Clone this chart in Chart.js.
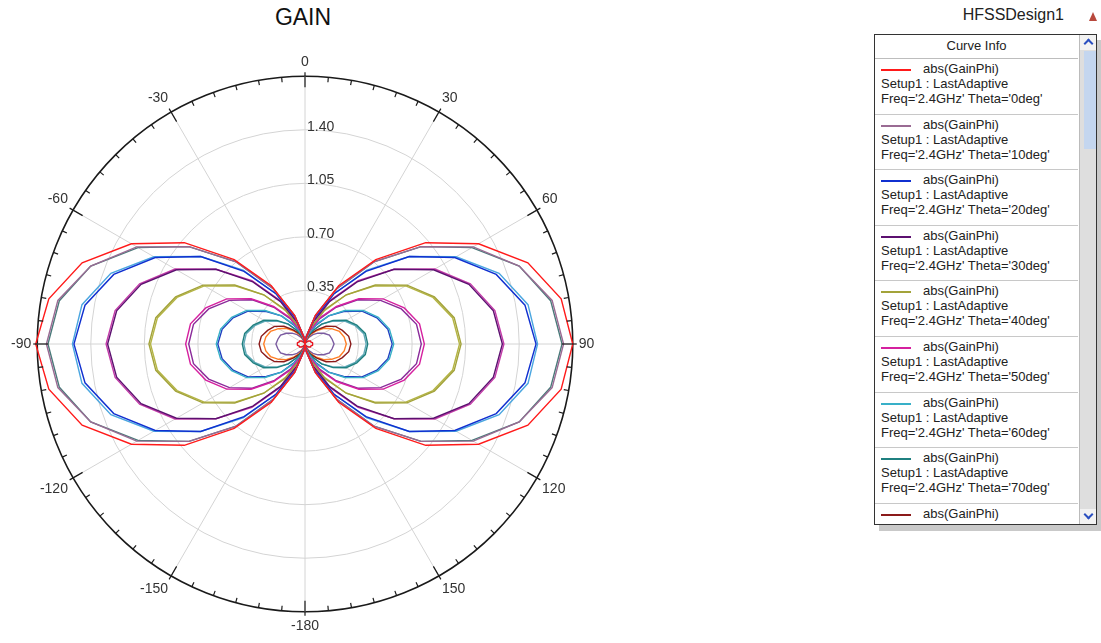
<!DOCTYPE html>
<html lang="en">
<head>
    <meta charset="UTF-8">
    <title>GAIN - abs(GainPhi)</title>
    <style>
        body { margin: 0; background: #fff; font-family: Arial, "Liberation Sans", sans-serif; overflow: hidden; }
        #title { position: absolute; left: 203px; width: 200px; top: 4px; text-align: center; font-size: 23px; color: #111; }
        #chartBox { position: absolute; left: 3px; top: 44px; width: 600px; height: 600px; }
        #design { position: absolute; left: 900px; width: 164px; top: 6px; text-align: right; font-size: 16px; color: #222; }
        #designIcon { position: absolute; left: 1089px; top: 12px; width: 0; height: 0;
            border-left: 4px solid transparent; border-right: 4px solid transparent; border-bottom: 9px solid #b8483c; }
        #curveInfo { position: absolute; left: 874px; top: 34px; width: 221px; height: 489px;
            border: 1px solid #333; background: #fff; box-shadow: 5px 6px 0 #c9c9c9; overflow: hidden; }
        #curveList { position: absolute; left: 0; top: 0; width: 203px; }
        #curveInfo .head { height: 23px; line-height: 22px; text-align: center; font-size: 13px; color: #222; border-bottom: 1px solid #bdbdbd; }
        #curveInfo .item { position: relative; height: 54.6px; border-bottom: 1px solid #c8c8c8; font-size: 13px; color: #222; }
        #curveInfo .item .swatch { position: absolute; left: 6px; top: 10px; width: 30px; height: 2px; }
        #curveInfo .item .l1 { position: absolute; left: 48px; top: 2px; }
        #curveInfo .item .l2 { position: absolute; left: 6px; top: 17px; }
        #curveInfo .item .l3 { position: absolute; left: 6px; top: 32px; white-space: nowrap; }
        #scroll { position: absolute; left: 204px; top: 0; width: 17px; height: 489px; background: #dedede; border-left: 1px solid #bbb; }
        #scroll .up, #scroll .down { position: absolute; left: 0; width: 17px; height: 15px; background: #f2f2f2; }
        #scroll .up { top: 0; }
        #scroll .down { bottom: 0; }
        #scroll .up::after, #scroll .down::after { content: ""; position: absolute; left: 5px; width: 5px; height: 5px;
            border-left: 2px solid #2a4fc0; border-top: 2px solid #2a4fc0; }
        #scroll .up::after { top: 5px; transform: rotate(45deg); }
        #scroll .down::after { top: 2px; transform: rotate(225deg); }
        #scroll .thumb { position: absolute; left: 4px; top: 16px; width: 13px; height: 98px; background: #c4d6ef; }
    </style>
</head>
<body>
<div id="title">GAIN</div>
<div id="chartBox"><canvas id="gainChart" width="600" height="600"></canvas></div>

<div id="design">HFSSDesign1</div>
<div id="designIcon"></div>
<div id="curveInfo">
    <div id="curveList"><div class="head">Curve Info</div></div>
    <div id="scroll"><div class="up"></div><div class="thumb"></div><div class="down"></div></div>
</div>

<script src="https://cdn.jsdelivr.net/npm/chart.js"></script>
<script>
// phi angle labels, clockwise from the top
const phiLabels = ['0','10','20','30','40','50','60','70','80','90','100','110','120','130','140','150','160','170',
                   '-180','-170','-160','-150','-140','-130','-120','-110','-100','-90','-80','-70','-60','-50','-40','-30','-20','-10'];

// theta value of every curve (deg) and its colour
const thetaValues = [0, 10, 20, 30, 40, 50, 60, 70, 80, 90, 100, 110, 120, 130, 140, 150, 160, 170, 180];
const curveColors = ['#ff1a1a', '#9a6b93', '#1030d0', '#5c1070', '#a3a33a', '#d5209f', '#38b0c8', '#1f8080', '#8b1a1a',
                     '#e8141e', '#ff7f27', '#5fa8b8', '#2040c0', '#8a2a9a', '#b5b545', '#c43aa8', '#4aa6e0', '#4a7a7a', '#7a5aa0'];

// abs(GainPhi), one value per phiLabels entry
const gainTheta0   = [0,0.05,0.20,0.44,0.72,1.03,1.31,1.55,1.70,1.75,1.70,1.55,1.31,1.03,0.72,0.44,0.20,0.05,0,0.05,0.20,0.44,0.72,1.03,1.31,1.55,1.70,1.76,1.70,1.55,1.31,1.03,0.72,0.44,0.20,0.05];
const gainTheta10  = [0,0.05,0.20,0.42,0.70,0.99,1.27,1.49,1.64,1.69,1.64,1.49,1.27,0.99,0.70,0.42,0.20,0.05,0,0.05,0.20,0.42,0.70,0.99,1.27,1.49,1.64,1.69,1.64,1.49,1.27,0.99,0.70,0.42,0.20,0.05];
const gainTheta20  = [0,0.05,0.18,0.38,0.62,0.89,1.13,1.33,1.46,1.51,1.46,1.33,1.13,0.89,0.62,0.38,0.18,0.05,0,0.05,0.18,0.38,0.62,0.89,1.13,1.33,1.46,1.51,1.46,1.33,1.13,0.89,0.62,0.38,0.18,0.05];
const gainTheta30  = [0,0.04,0.15,0.32,0.53,0.76,0.97,1.14,1.25,1.29,1.25,1.14,0.97,0.76,0.53,0.32,0.15,0.04,0,0.04,0.15,0.32,0.53,0.76,0.97,1.14,1.25,1.29,1.25,1.14,0.97,0.76,0.53,0.32,0.15,0.04];
const gainTheta40  = [0,0.03,0.12,0.26,0.42,0.60,0.77,0.90,0.99,1.02,0.99,0.90,0.77,0.60,0.42,0.26,0.12,0.03,0,0.03,0.12,0.26,0.42,0.60,0.77,0.90,0.99,1.02,0.99,0.90,0.77,0.60,0.42,0.26,0.12,0.03];
const gainTheta50  = [0,0.02,0.09,0.20,0.32,0.46,0.59,0.69,0.76,0.78,0.76,0.69,0.59,0.46,0.32,0.20,0.09,0.02,0,0.02,0.09,0.20,0.32,0.46,0.59,0.69,0.76,0.78,0.76,0.69,0.59,0.46,0.32,0.20,0.09,0.02];
const gainTheta60  = [0,0.02,0.07,0.15,0.24,0.34,0.44,0.51,0.56,0.58,0.56,0.51,0.44,0.34,0.24,0.15,0.07,0.02,0,0.02,0.07,0.15,0.24,0.34,0.44,0.51,0.56,0.58,0.56,0.51,0.44,0.34,0.24,0.15,0.07,0.02];
const gainTheta70  = [0,0.01,0.05,0.10,0.17,0.24,0.31,0.36,0.40,0.41,0.40,0.36,0.31,0.24,0.17,0.10,0.05,0.01,0,0.01,0.05,0.10,0.17,0.24,0.31,0.36,0.40,0.41,0.40,0.36,0.31,0.24,0.17,0.10,0.05,0.01];
const gainTheta80  = [0,0.01,0.04,0.08,0.12,0.18,0.23,0.26,0.29,0.30,0.29,0.26,0.23,0.18,0.12,0.08,0.04,0.01,0,0.01,0.04,0.08,0.12,0.18,0.23,0.26,0.29,0.30,0.29,0.26,0.23,0.18,0.12,0.08,0.04,0.01];
const gainTheta90  = [0,0.00,0.01,0.01,0.02,0.03,0.04,0.04,0.05,0.05,0.05,0.04,0.04,0.03,0.02,0.01,0.01,0.00,0,0.00,0.01,0.01,0.02,0.03,0.04,0.04,0.05,0.05,0.05,0.04,0.04,0.03,0.02,0.01,0.01,0.00];
const gainTheta100 = [0,0.01,0.03,0.07,0.11,0.16,0.20,0.24,0.26,0.27,0.26,0.24,0.20,0.16,0.11,0.07,0.03,0.01,0,0.01,0.03,0.07,0.11,0.16,0.20,0.24,0.26,0.27,0.26,0.24,0.20,0.16,0.11,0.07,0.03,0.01];
const gainTheta110 = [0,0.01,0.05,0.10,0.17,0.23,0.30,0.35,0.39,0.40,0.39,0.35,0.30,0.23,0.17,0.10,0.05,0.01,0,0.01,0.05,0.10,0.17,0.23,0.30,0.35,0.39,0.40,0.39,0.35,0.30,0.23,0.17,0.10,0.05,0.01];
const gainTheta120 = [0,0.02,0.07,0.14,0.24,0.33,0.43,0.50,0.55,0.57,0.55,0.50,0.43,0.33,0.24,0.14,0.07,0.02,0,0.02,0.07,0.14,0.24,0.33,0.43,0.50,0.55,0.57,0.55,0.50,0.43,0.33,0.24,0.14,0.07,0.02];
const gainTheta130 = [0,0.02,0.09,0.19,0.31,0.45,0.57,0.67,0.74,0.76,0.74,0.67,0.57,0.45,0.31,0.19,0.09,0.02,0,0.02,0.09,0.19,0.31,0.45,0.57,0.67,0.74,0.76,0.74,0.67,0.57,0.45,0.31,0.19,0.09,0.02];
const gainTheta140 = [0,0.03,0.12,0.25,0.42,0.59,0.76,0.89,0.98,1.01,0.98,0.89,0.76,0.59,0.42,0.25,0.12,0.03,0,0.03,0.12,0.25,0.42,0.59,0.76,0.89,0.98,1.01,0.98,0.89,0.76,0.59,0.42,0.25,0.12,0.03];
const gainTheta150 = [0,0.04,0.15,0.33,0.54,0.76,0.98,1.15,1.26,1.30,1.26,1.15,0.98,0.76,0.54,0.33,0.15,0.04,0,0.04,0.15,0.33,0.54,0.76,0.98,1.15,1.26,1.30,1.26,1.15,0.98,0.76,0.54,0.33,0.15,0.04];
const gainTheta160 = [0,0.05,0.18,0.38,0.63,0.89,1.14,1.35,1.48,1.52,1.48,1.35,1.14,0.89,0.63,0.38,0.18,0.05,0,0.05,0.18,0.38,0.63,0.89,1.14,1.35,1.48,1.52,1.48,1.35,1.14,0.89,0.63,0.38,0.18,0.05];
const gainTheta170 = [0,0.05,0.20,0.42,0.70,0.99,1.26,1.49,1.63,1.68,1.63,1.49,1.26,0.99,0.70,0.42,0.20,0.05,0,0.05,0.20,0.42,0.70,0.99,1.26,1.49,1.63,1.68,1.63,1.49,1.26,0.99,0.70,0.42,0.20,0.05];
const gainTheta180 = [0,0.01,0.02,0.05,0.08,0.11,0.14,0.17,0.18,0.19,0.18,0.17,0.14,0.11,0.08,0.05,0.02,0.01,0,0.01,0.02,0.05,0.08,0.11,0.14,0.17,0.18,0.19,0.18,0.17,0.14,0.11,0.08,0.05,0.02,0.01];

const gainSeries = [gainTheta0, gainTheta10, gainTheta20, gainTheta30, gainTheta40, gainTheta50, gainTheta60,
                    gainTheta70, gainTheta80, gainTheta90, gainTheta100, gainTheta110, gainTheta120, gainTheta130,
                    gainTheta140, gainTheta150, gainTheta160, gainTheta170, gainTheta180];

// radial rings
const ringValues = [0.35, 0.70, 1.05, 1.40];
const ringLabels = ['0.35', '0.70', '1.05', '1.40'];

// Curve Info list on the right
const list = document.getElementById('curveList');
thetaValues.forEach(function (theta, i) {
    const item = document.createElement('div');
    item.className = 'item';
    item.innerHTML = '<div class="swatch" style="background:' + curveColors[i] + '"></div>' +
        '<div class="l1">abs(GainPhi)</div>' +
        '<div class="l2">Setup1 : LastAdaptive</div>' +
        '<div class="l3">Freq=\'2.4GHz\' Theta=\'' + theta + 'deg\'</div>';
    list.appendChild(item);
});

// ticks on the outer ring and the ring value labels
const polarDecor = {
    id: 'polarDecor',
    afterDraw(chart) {
        const r = chart.scales.r;
        const ctx = chart.ctx;
        const cx = r.xCenter, cy = r.yCenter, R = r.drawingArea;
        const start = r.getIndexAngle(0) - Math.PI / 2;
        const step = (r.getIndexAngle(1) - r.getIndexAngle(0)) / 2; // 5 deg
        ctx.save();
        ctx.strokeStyle = '#1a1a1a';
        ctx.lineWidth = 1.2;
        for (let k = 0; k < 72; k++) {
            const a = start + k * step;
            const major = k % 6 === 0;
            const rin = R - (major ? 11 : 5);
            const rout = R + (major ? 4 : 0);
            ctx.beginPath();
            ctx.moveTo(cx + Math.cos(a) * rin, cy + Math.sin(a) * rin);
            ctx.lineTo(cx + Math.cos(a) * rout, cy + Math.sin(a) * rout);
            ctx.stroke();
        }
        ctx.font = '14px Arial, "Liberation Sans", sans-serif';
        ctx.fillStyle = '#333';
        ctx.textAlign = 'left';
        ctx.textBaseline = 'bottom';
        ringValues.forEach(function (v, i) {
            const d = r.getDistanceFromCenterForValue(v);
            ctx.fillText(ringLabels[i], cx + 2, cy - d + 4);
        });
        ctx.restore();
    }
};

new Chart(document.getElementById('gainChart'), {
    type: 'radar',
    data: {
        labels: phiLabels,
        datasets: gainSeries.map(function (vals, i) {
            return {
                label: 'Theta=' + thetaValues[i] + 'deg',
                data: vals,
                borderColor: curveColors[i],
                backgroundColor: 'transparent',
                borderWidth: 1.4,
                pointRadius: 0,
                fill: false,
                tension: 0
            };
        })
    },
    options: {
        responsive: false,
        animation: false,
        devicePixelRatio: 1,
        layout: { padding: 6 },
        plugins: { legend: { display: false }, tooltip: { enabled: false } },
        scales: {
            r: {
                min: 0,
                max: 1.75,
                ticks: { stepSize: 0.35, display: false },
                grid: {
                    circular: true,
                    color: ctx => ctx.index === 5 ? '#1a1a1a' : '#d4d4d4',
                    lineWidth: ctx => ctx.index === 5 ? 1.6 : 1
                },
                angleLines: {
                    color: '#d4d4d4',
                    lineWidth: ctx => ctx.index % 3 === 0 ? 1 : 0
                },
                pointLabels: {
                    callback: (label, index) => index % 3 === 0 ? label : '',
                    font: { size: 14, family: 'Arial, "Liberation Sans", sans-serif' },
                    color: '#333',
                    padding: 6
                }
            }
        }
    },
    plugins: [polarDecor]
});
</script>
</body>
</html>
